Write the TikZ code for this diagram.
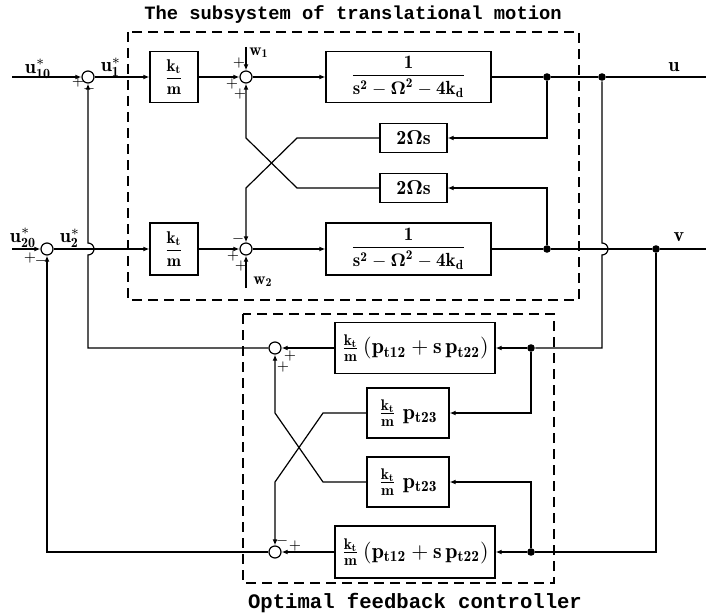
\documentclass[tikz,border=0pt]{standalone}
\usepackage{amsmath}
\usepackage{fontspec}
\newfontfamily\capfont{Liberation Mono}
\usetikzlibrary{arrows.meta}

\newcommand{\gk}{\dfrac{\mathbf{k_t}}{\mathbf{m}}}
\newcommand{\pl}{\dfrac{\mathbf{1}}{\mathbf{s^2-\boldsymbol{\Omega}^2-4k_d}}}

\begin{document}
\begin{tikzpicture}[x=0.5pt, y=-0.5pt, >={Latex[length=3pt,width=2.4pt]}, line width=0.6pt,
   blk/.style={draw, inner sep=0pt, font=\fontsize{11}{12}\selectfont},
   sm/.style={draw, circle, minimum size=6pt, inner sep=0pt},
   dot/.style={circle, fill, minimum size=3.8pt, inner sep=0pt},
   sgn/.style={inner sep=0pt, font=\fontsize{7}{7}\selectfont},
   lbl/.style={inner sep=0pt, font=\fontsize{10}{11}\selectfont},
   box/.style={dashed, dash pattern=on 5pt off 3pt}]
  \useasboundingbox (0,0) rectangle (706,615);
  % subsystem of translational motion
  \draw[box] (128,32) rectangle (579,300);
  \node[font=\fontsize{9.4}{10}\capfont\bfseries] (ttlA) at (353,15) {The subsystem of translational motion};
  \node[sm] (sum1) at (88,77) {};
  \node[sm] (sum2) at (47,249) {};
  \node[blk, minimum width=24pt, minimum height=25.5pt, font=\fontsize{8.5}{9}\selectfont] (gainA) at (174,77) {$\gk$};
  \node[blk, minimum width=24pt, minimum height=26pt, font=\fontsize{8.5}{9}\selectfont] (gainB) at (174,249) {$\gk$};
  \node[sm] (sumA) at (246,77) {};
  \node[sm] (sumB) at (246,249) {};
  \node[blk, minimum width=82.5pt, minimum height=25.5pt, font=\fontsize{9.5}{10}\selectfont] (plantA) at (408.5,77) {$\pl$};
  \node[blk, minimum width=82.5pt, minimum height=26pt, font=\fontsize{9.5}{10}\selectfont] (plantB) at (408.5,249) {$\pl$};
  \node[blk, minimum width=33.5pt, minimum height=14.5pt, font=\fontsize{10}{11}\selectfont] (corA) at (413.5,138) {$\mathbf{2\boldsymbol{\Omega}s}$};
  \node[blk, minimum width=33.5pt, minimum height=14.5pt, font=\fontsize{10}{11}\selectfont] (corB) at (413.5,188) {$\mathbf{2\boldsymbol{\Omega}s}$};
  \node[dot] (jA) at (547,77) {};
  \node[dot] (jU) at (602,77) {};
  \node[dot] (jB) at (547,249) {};
  \node[dot] (jV) at (656,249) {};
  \coordinate (in10) at (12,77);
  \coordinate (in20) at (12,249);
  \coordinate (w1) at (246,47);
  \coordinate (w2) at (246,288);
  \coordinate (outU) at (706,77);
  \coordinate (outV) at (706,249);
  % optimal feedback controller
  \draw[box] (243,314) rectangle (554,583);
  \node[font=\fontsize{10.3}{11}\capfont\bfseries] (ttlB) at (415,603) {Optimal feedback controller};
  \node[blk, minimum width=80pt, minimum height=25.5pt] (fbA) at (415,348) {$\frac{\mathbf{k_t}}{\mathbf{m}}\,(\mathbf{p_{t12}+s\,p_{t22}})$};
  \node[blk, minimum width=41pt, minimum height=25pt] (fbP1) at (408,413) {$\frac{\mathbf{k_t}}{\mathbf{m}}\;\mathbf{p_{t23}}$};
  \node[blk, minimum width=41pt, minimum height=25pt] (fbP2) at (408,482) {$\frac{\mathbf{k_t}}{\mathbf{m}}\;\mathbf{p_{t23}}$};
  \node[blk, minimum width=80pt, minimum height=26pt] (fbB) at (415,552) {$\frac{\mathbf{k_t}}{\mathbf{m}}\,(\mathbf{p_{t12}+s\,p_{t22}})$};
  \node[sm] (csumA) at (275,348) {};
  \node[sm] (csumB) at (275,552) {};
  \node[dot] (fdA) at (531,348) {};
  \node[dot] (fdB) at (531,552) {};
  % labels
  \node[lbl] (lu10) at (38,69) {$\mathbf{u}^{*}_{\mathbf{10}}$};
  \node[lbl] (lu1) at (111,67) {$\mathbf{u}^{*}_{\mathbf{1}}$};
  \node[lbl] (lu20) at (23,238) {$\mathbf{u}^{*}_{\mathbf{20}}$};
  \node[lbl] (lu2) at (70,238) {$\mathbf{u}^{*}_{\mathbf{2}}$};
  \node[lbl, font=\fontsize{8.5}{9}\selectfont] (lw1) at (259,53) {$\mathbf{w_1}$};
  \node[lbl, font=\fontsize{8.5}{9}\selectfont] (lw2) at (263,282) {$\mathbf{w_2}$};
  \node[lbl] (lu) at (674,67) {$\mathbf{u}$};
  \node[lbl] (lv) at (679,237) {$\mathbf{v}$};
  % signs
  \node[sgn] (s1a) at (78,82) {$\mathbf{+}$};
  \node[sgn] (s1b) at (89,89) {$\mathbf{-}$};
  \node[sgn] (sAa) at (239,63) {$\mathbf{+}$};
  \node[sgn] (sAb) at (232,84) {$\mathbf{+}$};
  \node[sgn] (sAc) at (240,94) {$\mathbf{+}$};
  \node[sgn] (sBa) at (238,239) {$\mathbf{-}$};
  \node[sgn] (sBb) at (233,256) {$\mathbf{+}$};
  \node[sgn] (sBc) at (241,266) {$\mathbf{+}$};
  \node[sgn] (s2a) at (30,258) {$\mathbf{+}$};
  \node[sgn] (s2b) at (41,261) {$\mathbf{-}$};
  \node[sgn] (cAa) at (290,356) {$\mathbf{+}$};
  \node[sgn] (cAb) at (283,367) {$\mathbf{+}$};
  \node[sgn] (cBa) at (282,541) {$\mathbf{-}$};
  \node[sgn] (cBb) at (295,546) {$\mathbf{+}$};
  % upper loop
  \draw[->] (in10) -- (sum1);
  \draw[->] (sum1) -- (gainA);
  \draw[->] (gainA) -- (sumA);
  \draw[->] (w1) -- (sumA);
  \draw[->] (sumA) -- (plantA);
  \draw (plantA) -- (jA) -- (jU) -- (outU);
  \draw[->] (jA) |- (corA);
  \draw[->] (corA) -- (297,138) -- (246,188) -- (sumB);
  % lower loop
  \draw[->] (in20) -- (sum2);
  \draw[->] (sum2) -- (gainB);
  \draw[->] (gainB) -- (sumB);
  \draw[->] (w2) -- (sumB);
  \draw[->] (sumB) -- (plantB);
  \draw (plantB) -- (jB) -- (jV) -- (outV);
  \draw[->] (jB) |- (corB);
  \draw[->] (corB) -- (297,188) -- (246,138) -- (sumA);
  % controller
  \draw (jU) -- (602,243) arc[start angle=90, end angle=-90, radius=3pt] -- (602,348) -- (fdA);
  \draw[->] (fdA) -- (fbA);
  \draw[->] (fdA) |- (fbP1);
  \draw (jV) |- (fdB);
  \draw[->] (fdB) -- (fbB);
  \draw[->] (fdB) |- (fbP2);
  \draw[->] (fbA) -- (csumA);
  \draw[->] (fbB) -- (csumB);
  \draw[->] (fbP1) -- (323,413) -- (275,482) -- (csumB);
  \draw[->] (fbP2) -- (323,482) -- (275,413) -- (csumA);
  \draw[->] (csumA) -- (88,348) -- (88,255) arc[start angle=-90, end angle=90, radius=3pt] -- (sum1);
  \draw[->] (csumB) -| (sum2);
\end{tikzpicture}
\end{document}
